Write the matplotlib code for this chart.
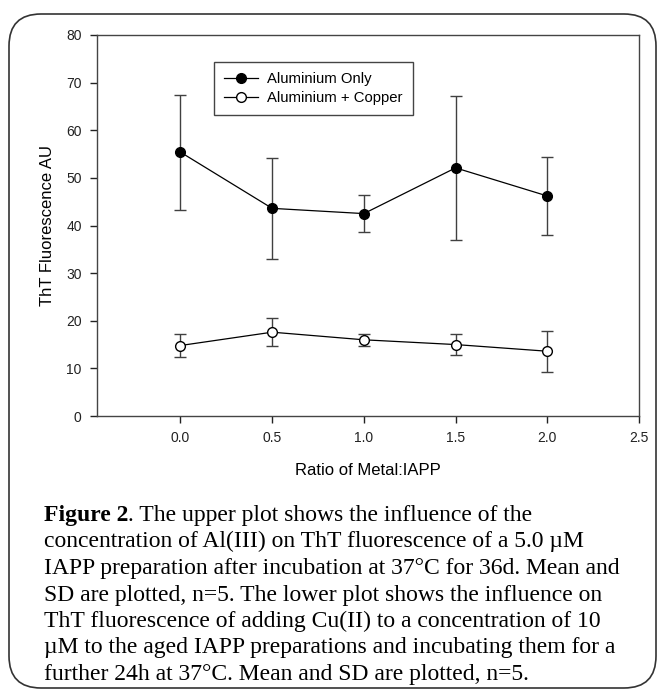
import matplotlib
matplotlib.use("Agg")
import matplotlib.pyplot as plt
from matplotlib.patches import FancyBboxPatch
from matplotlib.lines import Line2D

# data
ratio = [0.0, 0.5, 1.0, 1.5, 2.0]
al_only = [55.4, 43.6, 42.5, 52.1, 46.2]
al_only_sd = [12.1, 10.6, 3.9, 15.1, 8.2]
al_cu = [14.8, 17.6, 16.0, 15.0, 13.6]
al_cu_sd = [2.4, 2.9, 1.2, 2.2, 4.3]
xticks = [0.0, 0.5, 1.0, 1.5, 2.0, 2.5]
yticks = [0, 10, 20, 30, 40, 50, 60, 70, 80]
series_names = ['Aluminium Only', 'Aluminium + Copper']

caption_head = 'Figure 2'
caption_lines = [
    ". The upper plot shows the influence of the",
    "concentration of Al(III) on ThT fluorescence of a 5.0 \u00b5M",
    "IAPP preparation after incubation at 37\u00b0C for 36d. Mean and",
    "SD are plotted, n=5. The lower plot shows the influence on",
    "ThT fluorescence of adding Cu(II) to a concentration of 10",
    "\u00b5M to the aged IAPP preparations and incubating them for a",
    "further 24h at 37\u00b0C. Mean and SD are plotted, n=5.",
]

plt.rcParams['font.family'] = ['Liberation Sans', 'DejaVu Sans']

W, H = 664, 692
fig = plt.figure(figsize=(W / 100, H / 100), dpi=100)

# rounded frame around the figure
frame = FancyBboxPatch((0.09, 0.04), 6.47, 6.74,
                       boxstyle="round,pad=0,rounding_size=0.32",
                       transform=fig.dpi_scale_trans, fill=False,
                       edgecolor='#333333', linewidth=1.2)
fig.patches.append(frame)

ax = fig.add_axes([97 / W, 1 - 416 / H, (639 - 97) / W, (416 - 35) / H])

err_kw = dict(ecolor='#404040', elinewidth=1.0, capsize=4.5, capthick=1.0)
ax.errorbar(ratio, al_only, yerr=al_only_sd, color='black', linewidth=0.9,
            marker='o', markersize=7, markerfacecolor='black',
            markeredgecolor='black', **err_kw)
ax.errorbar(ratio, al_cu, yerr=al_cu_sd, color='black', linewidth=0.9,
            marker='o', markersize=7, markerfacecolor='white',
            markeredgecolor='black', **err_kw)

ax.set_xlim(-0.455, 2.5)
ax.set_ylim(0, 80)
ax.set_xticks(xticks)
ax.set_xticklabels(['%.1f' % t for t in xticks])
ax.set_yticks(yticks)
ax.tick_params(direction='out', length=5, width=1, labelsize=10,
               colors='#222222', pad=6)
for sp in ax.spines.values():
    sp.set_color('#444444')
    sp.set_linewidth(1.0)

ax.set_xlabel('Ratio of Metal:IAPP', fontsize=12, labelpad=13)
ax.set_ylabel('ThT Fluorescence AU', fontsize=12, labelpad=8)

handles = [
    Line2D([], [], color='black', linewidth=0.9, marker='o', markersize=7,
           markerfacecolor='black', markeredgecolor='black'),
    Line2D([], [], color='black', linewidth=0.9, marker='o', markersize=7,
           markerfacecolor='white', markeredgecolor='black'),
]
ax.legend(handles, series_names, loc='upper left',
          bbox_to_anchor=(0.215, 0.929), borderaxespad=0, fancybox=False,
          framealpha=1, edgecolor='#444444', fontsize=10.7,
          handlelength=2.3, borderpad=0.7, labelspacing=0.3,
          handletextpad=0.6)

# caption
serif = ['Liberation Serif', 'DejaVu Serif']
x0 = 44 / W
y0 = 1 - 521 / H
step = 26.5 / H
fs = 17
head = fig.text(x0, y0, caption_head, fontsize=fs, family=serif,
                fontweight='bold', va='baseline')
fig.canvas.draw()
bb = head.get_window_extent()
fig.text(bb.x1 / W, y0, caption_lines[0], fontsize=fs, family=serif,
         va='baseline')
for i, line in enumerate(caption_lines[1:], start=1):
    fig.text(x0, y0 - i * step, line, fontsize=fs, family=serif,
             va='baseline')

fig.savefig('out.png', dpi=100)
